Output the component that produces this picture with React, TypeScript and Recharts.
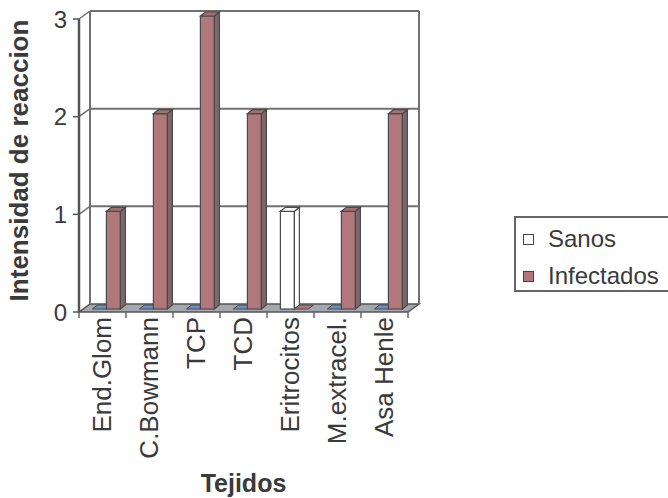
import React from 'react';
import { BarChart, Bar, XAxis, YAxis, CartesianGrid, Label } from 'recharts';

const categories = ['End.Glom', 'C.Bowmann', 'TCP', 'TCD', 'Eritrocitos', 'M.extracel.', 'Asa Henle'];
const sanos = [0, 0, 0, 0, 1, 0, 0];
const infectados = [1, 2, 3, 2, 0, 1, 2];
const yTicks = [0, 1, 2, 3];
const seriesNames = ['Sanos', 'Infectados'];
const axisTitles = { x: 'Tejidos', y: 'Intensidad de reaccion' };

const data = categories.map((c, i) => ({ name: c, sanos: sanos[i], infectados: infectados[i] }));

const DEPTH_X = 11;
const DEPTH_Y = 8;
const BAR_SHIFT_X = 4;
const BAR_SHIFT_Y = -3;
const BAR_D = 5;
const BAR_R = 4;
const TEXT = '#3a3a3a';
const FONT = '"Liberation Sans", Arial, sans-serif';
const WALL = '#707070';
const EDGE = '#4a4a4a';

function gridLine(props: any) {
  const { x1, y1, x2, y2, x, y, width, height, index } = props;
  const bottom = y + height;
  const parts: any[] = [];
  if (Math.abs(y1 - bottom) < 0.5) {
    const n = categories.length;
    parts.push(
      <polygon
        key="floor"
        points={`${x1},${y1} ${x2},${y2} ${x2 + DEPTH_X},${y2 - DEPTH_Y} ${x1 + DEPTH_X},${y1 - DEPTH_Y}`}
        fill="#a3a7ae"
        stroke="#555"
        strokeWidth={1.5}
      />
    );
    for (let i = 0; i <= n; i++) {
      const tx = x + (i * width) / n;
      parts.push(<line key={'t' + i} x1={tx} y1={y1} x2={tx} y2={y1 + 6} stroke="#666" strokeWidth={1.5} />);
    }
  } else {
    parts.push(
      <line key="back" x1={x1 + DEPTH_X} y1={y1 - DEPTH_Y} x2={x2 + DEPTH_X} y2={y2 - DEPTH_Y} stroke={WALL} strokeWidth={2} />
    );
    parts.push(<line key="diag" x1={x1} y1={y1} x2={x1 + DEPTH_X} y2={y1 - DEPTH_Y} stroke={WALL} strokeWidth={1.5} />);
  }
  if (index === 0) {
    parts.push(
      <line key="wl" x1={x + DEPTH_X} y1={y - DEPTH_Y} x2={x + DEPTH_X} y2={bottom - DEPTH_Y} stroke={WALL} strokeWidth={2} />
    );
    parts.push(
      <line key="wr" x1={x + width + DEPTH_X} y1={y - DEPTH_Y} x2={x + width + DEPTH_X} y2={bottom - DEPTH_Y} stroke={WALL} strokeWidth={2} />
    );
  }
  return <g key={'gl' + index}>{parts}</g>;
}

function makeShape(front: string, side: string, top: string, flat: string) {
  return (props: any) => {
    const { x, y, width, height } = props;
    const X = x + BAR_SHIFT_X;
    const Y = y + BAR_SHIFT_Y;
    const w = width;
    const h = height || 0;
    if (h < 1) {
      const yb = Y + h;
      return (
        <polygon
          points={`${X},${yb} ${X + w},${yb} ${X + w + BAR_D},${yb - BAR_R} ${X + BAR_D},${yb - BAR_R}`}
          fill={flat}
          stroke={EDGE}
          strokeWidth={1}
        />
      );
    }
    return (
      <g>
        <rect x={X} y={Y} width={w} height={h} fill={front} stroke={EDGE} strokeWidth={1.2} />
        <polygon
          points={`${X + w},${Y} ${X + w + BAR_D},${Y - BAR_R} ${X + w + BAR_D},${Y + h - BAR_R} ${X + w},${Y + h}`}
          fill={side}
          stroke={EDGE}
          strokeWidth={1.2}
        />
        <polygon
          points={`${X},${Y} ${X + BAR_D},${Y - BAR_R} ${X + w + BAR_D},${Y - BAR_R} ${X + w},${Y}`}
          fill={top}
          stroke={EDGE}
          strokeWidth={1.2}
        />
      </g>
    );
  };
}

const CatTick = (props: any) => {
  const { x, y, payload } = props;
  return (
    <text
      transform={`translate(${x + 8},${y}) rotate(-90)`}
      textAnchor="end"
      fontSize={26}
      fontFamily={FONT}
      fill={TEXT}
    >
      {payload.value}
    </text>
  );
};

const XTitle = (props: any) => {
  const vb = props.viewBox || {};
  return (
    <text x={vb.x + vb.width / 2} y={vb.y + vb.height} textAnchor="middle" fontSize={25} fontWeight="bold" fontFamily={FONT} fill={TEXT}>
      {axisTitles.x}
    </text>
  );
};

const YTitle = (props: any) => {
  const vb = props.viewBox || {};
  return (
    <text
      transform={`translate(${vb.x + 9},${vb.y + vb.height / 2 - 5}) rotate(-90)`}
      textAnchor="middle"
      fontSize={26}
      fontWeight="bold"
      fontFamily={FONT}
      fill={TEXT}
    >
      {axisTitles.y}
    </text>
  );
};

const legendColors = ['#ffffff', '#b0787a'];

export default function App() {
  return (
    <div style={{ position: 'absolute', left: 0, top: 0, width: 668, height: 498, background: '#fff', overflow: 'hidden' }}>
      <BarChart
        width={668}
        height={498}
        data={data}
        margin={{ top: 19, right: 260, bottom: 6, left: 19 }}
        barGap={0}
        barCategoryGap="20%"
      >
        <CartesianGrid horizontal={gridLine as any} vertical={false} />
        <XAxis dataKey="name" height={180} tickLine={false} axisLine={false} tickSize={0} tickMargin={5} tick={<CatTick />} interval={0}>
          <Label content={XTitle} />
        </XAxis>
        <YAxis
          domain={[0, 3]}
          ticks={yTicks}
          width={60}
          tickSize={6}
          tickMargin={6}
          axisLine={{ stroke: '#555', strokeWidth: 2.5 }}
          tickLine={{ stroke: '#555', strokeWidth: 1.5 }}
          tick={{ fill: TEXT, fontSize: 24, fontFamily: FONT }}
          allowDecimals={false}
        >
          <Label content={YTitle} />
        </YAxis>
        <Bar dataKey="sanos" name={seriesNames[0]} isAnimationActive={false} shape={makeShape('#ffffff', '#ffffff', '#ffffff', '#6b8fc4')} />
        <Bar dataKey="infectados" name={seriesNames[1]} isAnimationActive={false} shape={makeShape('#b0787a', '#7e6767', '#a07072', '#b0787a')} />
      </BarChart>
      <div
        style={{
          position: 'absolute',
          left: 514,
          top: 216,
          width: 170,
          height: 72,
          border: '2px solid #666',
          fontFamily: FONT,
          fontSize: 24,
          color: TEXT,
          background: '#fff',
        }}
      >
        {seriesNames.map((s, i) => (
          <div key={s} style={{ position: 'absolute', left: 7, top: 6 + i * 37, height: 30, display: 'flex', alignItems: 'center', whiteSpace: 'nowrap' }}>
            <span
              style={{
                display: 'inline-block',
                width: 9,
                height: 9,
                border: '1px solid #444',
                background: legendColors[i],
                marginRight: 14,
              }}
            />
            <span>{s}</span>
          </div>
        ))}
      </div>
    </div>
  );
}
